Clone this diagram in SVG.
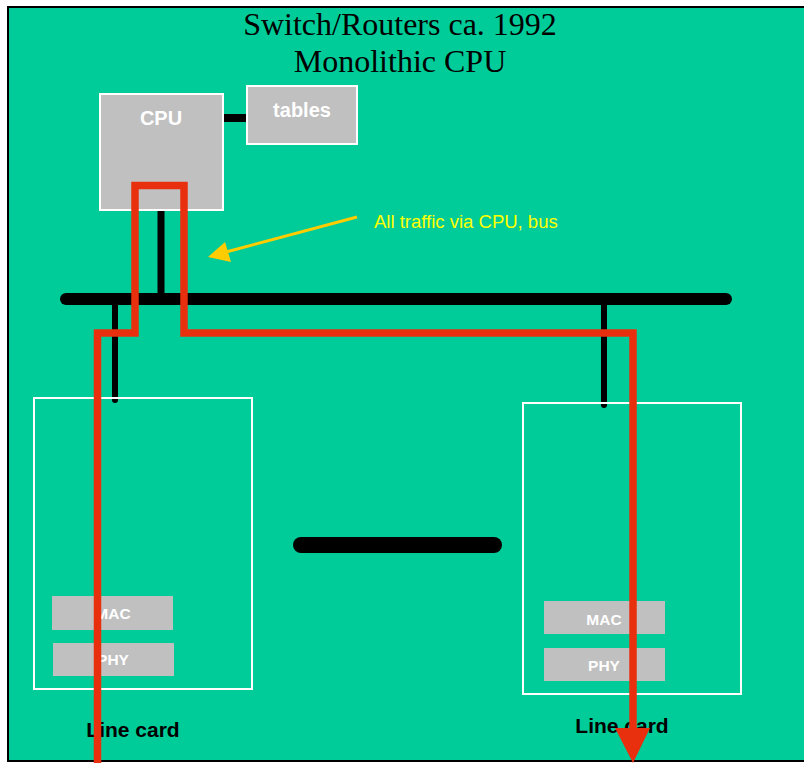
<svg xmlns="http://www.w3.org/2000/svg" width="804" height="763" viewBox="0 0 804 763">
<defs>
<style>
.box{fill:#C0C0C0;stroke:#FFFFFF;stroke-width:2}
.chip{fill:#C0C0C0}
.card{fill:none;stroke:#FFFFFF;stroke-width:2}
.lbl{font-family:"Liberation Sans",Arial,sans-serif;font-weight:bold;fill:#FFFFFF;text-anchor:middle}
.title{font-family:"Liberation Serif","Times New Roman",serif;font-size:32px;fill:#000000;text-anchor:middle}
.cap{font-family:"Liberation Sans",Arial,sans-serif;font-weight:bold;font-size:21px;fill:#000000;text-anchor:middle}
.wire{stroke:#000000;fill:none;stroke-linecap:round}
</style>
</defs>
<rect x="8" y="7" width="820" height="754" fill="#00CC99" stroke="#000000" stroke-width="2"/>
<g id="title">
<text class="title" x="400" y="35">Switch/Routers ca. 1992</text>
<text class="title" x="400" y="72">Monolithic CPU</text>
</g>
<g id="connectors">
<line class="wire" x1="223" y1="118" x2="247" y2="118" stroke-width="8" stroke-linecap="butt"/>
<line class="wire" x1="161" y1="211" x2="161" y2="298" stroke-width="7" stroke-linecap="butt"/>
<line class="wire" x1="66" y1="299" x2="726" y2="299" stroke-width="12"/>
<line class="wire" x1="115" y1="299" x2="115" y2="400" stroke-width="6"/>
<line class="wire" x1="604" y1="299" x2="604" y2="405" stroke-width="6"/>
<line class="wire" x1="301" y1="545" x2="494" y2="545" stroke-width="16"/>
<line x1="357" y1="217" x2="226" y2="252" stroke="#FFCC00" stroke-width="3"/>
<path d="M208,257 L225,242 L231,262 Z" fill="#FFCC00"/>
</g>
<g id="cpu">
<rect class="box" x="100" y="94" width="123" height="116"/>
<text class="lbl" x="161" y="125" font-size="20">CPU</text>
</g>
<g id="tables">
<rect class="box" x="247" y="86" width="110" height="58"/>
<text class="lbl" x="302" y="117" font-size="20">tables</text>
</g>
<g id="note">
<text x="374" y="228" font-family="'Liberation Sans',Arial,sans-serif" font-size="18.5" fill="#FFFF00">All traffic via CPU, bus</text>
</g>
<g id="linecard-left">
<rect class="card" x="34" y="398" width="218" height="291"/>
<rect class="chip" x="52" y="596" width="121" height="34"/>
<text class="lbl" x="113" y="619" font-size="15.5">MAC</text>
<rect class="chip" x="53" y="643" width="121" height="33"/>
<text class="lbl" x="113" y="665" font-size="15.5">PHY</text>
<text class="cap" x="133" y="737">Line card</text>
</g>
<g id="linecard-right">
<rect class="card" x="523" y="403" width="218" height="291"/>
<rect class="chip" x="544" y="601" width="121" height="33"/>
<text class="lbl" x="604" y="625" font-size="15.5">MAC</text>
<rect class="chip" x="544" y="648" width="121" height="33"/>
<text class="lbl" x="604" y="671" font-size="15.5">PHY</text>
<text class="cap" x="622" y="733">Line card</text>
</g>
<g id="traffic-path">
<path d="M97.5,763 L97.5,333 L135,333 L135,185.5 L184,185.5 L184,333 L633,333 L633,730" fill="none" stroke="#E8300E" stroke-width="7.5"/>
<path d="M615,728 L650,728 L633,763 Z" fill="#E8300E"/>
</g>
</svg>
